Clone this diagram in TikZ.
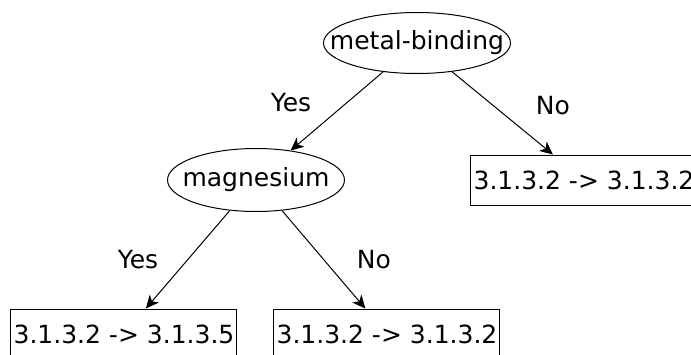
\documentclass[tikz,border=0pt]{standalone}
\usepackage{fontspec}
\setmainfont{DejaVu Sans}
\usetikzlibrary{shapes.geometric, arrows.meta, positioning}
\tikzstyle{test} = [ellipse,
inner sep=0pt,
minimum width=93.5pt,
minimum height=30.5pt,
draw=black]
\tikzstyle{result} = [rectangle,
inner sep=0pt,
minimum width=113pt,
minimum height=25pt,
text centered,
draw=black]
\tikzstyle{answer} = [anchor=base]
\tikzstyle{arrow} = [->,>={Stealth[length=6.5pt, width=6pt, inset=1.8pt]}]

\begin{document}
\begin{tikzpicture}[node distance=68.5pt, line width=0.5pt, font=\fontsize{12.5}{15}\selectfont]
            \useasboundingbox (-208.5pt,21.5pt) rectangle (137pt,-155.5pt);
            \node (metal) [test] {\makebox[0pt]{metal-binding}};
            \node (magnesium) [test, below of=metal, xshift=-80.5pt, minimum width=88.5pt, minimum height=31.5pt] {\makebox[0pt]{magnesium}};
            \node (nometal) [result, below of=metal, xshift=83.5pt] {3.1.3.2 -> 3.1.3.2};
            \node (yesmg) [result, below of=magnesium, yshift=-8.5pt, xshift=-66pt] {3.1.3.2 -> 3.1.3.5};
            \node (nomg) [result, below of=magnesium, yshift=-8.5pt, xshift=65.5pt] {3.1.3.2 -> 3.1.3.2};

            \draw [arrow] (metal) -- node[answer, xshift=-22.9pt, yshift=0pt]{Yes} (magnesium);
            \draw [arrow] (metal) -- node[answer, xshift=25.2pt, yshift=-0.5pt]{No} (nometal);
            \draw [arrow] (magnesium) -- node[answer, xshift=-24.9pt, yshift=-4.7pt]{Yes} (yesmg);
            \draw [arrow] (magnesium) -- node[answer, xshift=25.1pt, yshift=-4.7pt]{No} (nomg);
        \end{tikzpicture}
\end{document}
